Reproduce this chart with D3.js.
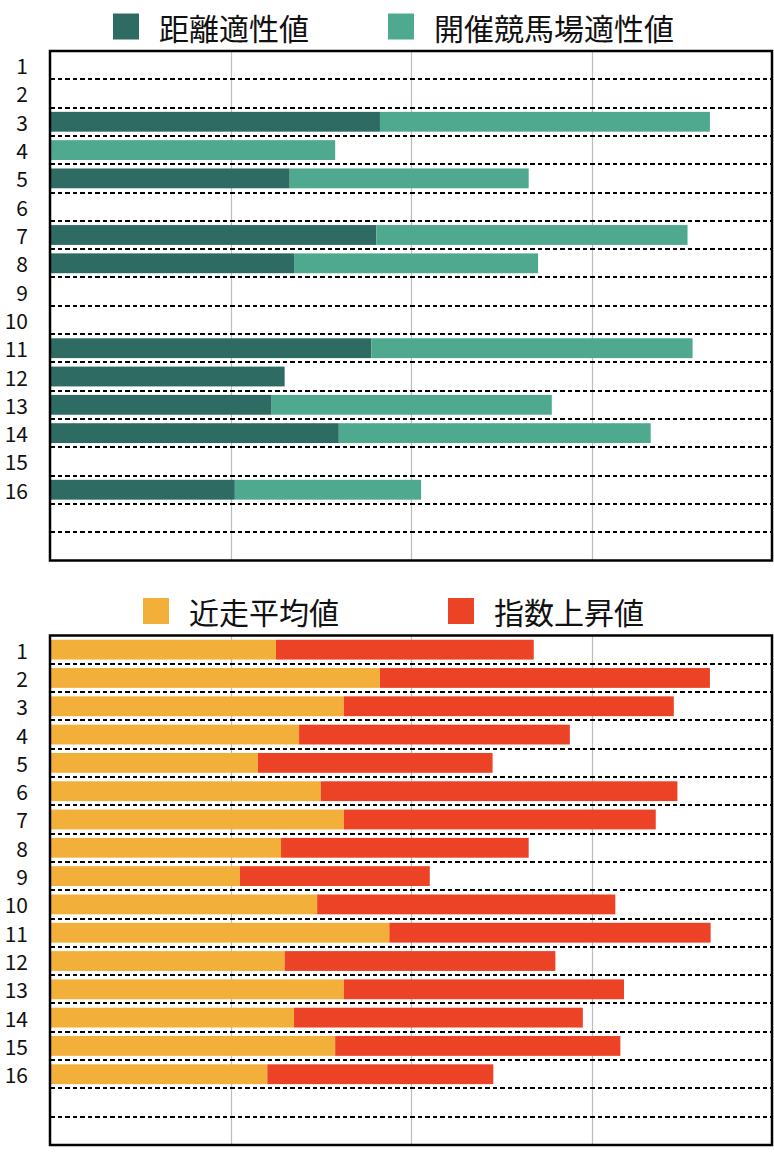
<!DOCTYPE html>
<html>
<head>
<meta charset="utf-8">
<script src="https://cdn.jsdelivr.net/npm/d3@7"></script>
<style>
  html, body { margin: 0; padding: 0; background: #fff; }
  svg { display: block; }
  text { font-family: "Noto Sans CJK JP", "Noto Sans", sans-serif; fill: #111; }
</style>
</head>
<body>
<svg id="chart" width="774" height="1158"></svg>
<script>
// ---- data ----
const rowLabels = ["1","2","3","4","5","6","7","8","9","10","11","12","13","14","15","16"];
const slotCount = 18; // 16 runners + 2 empty slots
const xTicks = [25, 50, 75];

const distanceAptitude = [0, 0, 45.7, 0, 33.2, 0, 45.2, 33.8, 0, 0, 44.5, 32.5, 30.7, 40.0, 0, 25.6];
const courseAptitude   = [0, 0, 45.7, 39.5, 33.1, 0, 43.1, 33.8, 0, 0, 44.5, 0, 38.8, 43.2, 0, 25.8];

const recentAverage = [31.3, 45.7, 40.7, 34.5, 28.8, 37.5, 40.7, 32.0, 26.3, 37.0, 47.0, 32.5, 40.7, 33.8, 39.5, 30.1];
const indexRise     = [35.7, 45.7, 45.7, 37.5, 32.5, 49.4, 43.2, 34.3, 26.3, 41.3, 44.5, 37.5, 38.8, 40.0, 39.5, 31.3];

const panels = [
  { top: 51, keys: ["distance", "course"], names: ["距離適性値", "開催競馬場適性値"],
    colors: ["#2d6b63", "#4ea98f"], series: [distanceAptitude, courseAptitude],
    legendX: [113, 388], legendY: 26.5 },
  { top: 635.5, keys: ["recent", "rise"], names: ["近走平均値", "指数上昇値"],
    colors: ["#f2b03b", "#ec4226"], series: [recentAverage, indexRise],
    legendX: [143, 448], legendY: 611 }
];

const svg = d3.select("#chart");
const left = 50, right = 772, panelH = 509.5;
const x = d3.scaleLinear().domain([0, 100]).range([left, right]);
const slots = d3.range(slotCount).map(String);

panels.forEach(p => {
  const y = d3.scaleBand().domain(slots).range([p.top, p.top + panelH]).paddingInner(0.3).paddingOuter(0.15);
  const yFull = d3.scaleBand().domain(slots).range([p.top, p.top + panelH]);
  const g = svg.append("g");

  // legend
  p.names.forEach((name, i) => {
    g.append("rect").attr("x", p.legendX[i]).attr("y", p.legendY - 13)
      .attr("width", 26).attr("height", 26).attr("fill", p.colors[i]);
    g.append("text").attr("x", p.legendX[i] + 46).attr("y", p.legendY)
      .attr("dominant-baseline", "central").attr("font-size", 30).text(name);
  });

  // vertical grid
  g.selectAll(".grid").data(xTicks).join("line")
    .attr("x1", d => Math.round(x(d)) + 0.5).attr("x2", d => Math.round(x(d)) + 0.5)
    .attr("y1", p.top).attr("y2", p.top + panelH)
    .attr("stroke", "#bdbdbd").attr("stroke-width", 1.2);

  // stacked bars
  const table = rowLabels.map((lab, i) => {
    const o = { slot: String(i) };
    p.keys.forEach((k, j) => o[k] = p.series[j][i]);
    return o;
  });
  const stacked = d3.stack().keys(p.keys)(table);
  stacked.forEach((layer, li) => {
    g.append("g").attr("fill", p.colors[li])
      .selectAll("rect").data(layer.filter(d => d[1] - d[0] > 0)).join("rect")
      .attr("x", d => x(d[0]))
      .attr("width", d => x(d[1]) - x(d[0]))
      .attr("y", d => y(d.data.slot))
      .attr("height", y.bandwidth());
  });

  // dashed separators
  g.selectAll(".sep").data(d3.range(1, slotCount)).join("line")
    .attr("x1", left).attr("x2", right)
    .attr("y1", d => Math.round(yFull(String(d)))).attr("y2", d => Math.round(yFull(String(d))))
    .attr("stroke", "#000").attr("stroke-width", 2).attr("stroke-dasharray", "4.5,3")
    .attr("shape-rendering", "crispEdges");

  // row labels
  g.selectAll(".lab").data(rowLabels).join("text")
    .attr("x", 28).attr("y", (d, i) => yFull(String(i)) + yFull.bandwidth() / 2)
    .attr("text-anchor", "end").attr("dominant-baseline", "central")
    .attr("font-size", 21).text(d => d);

  // frame
  g.append("rect").attr("x", left).attr("y", p.top)
    .attr("width", right - left).attr("height", panelH)
    .attr("fill", "none").attr("stroke", "#000").attr("stroke-width", 2.5);
});
</script>
</body>
</html>
